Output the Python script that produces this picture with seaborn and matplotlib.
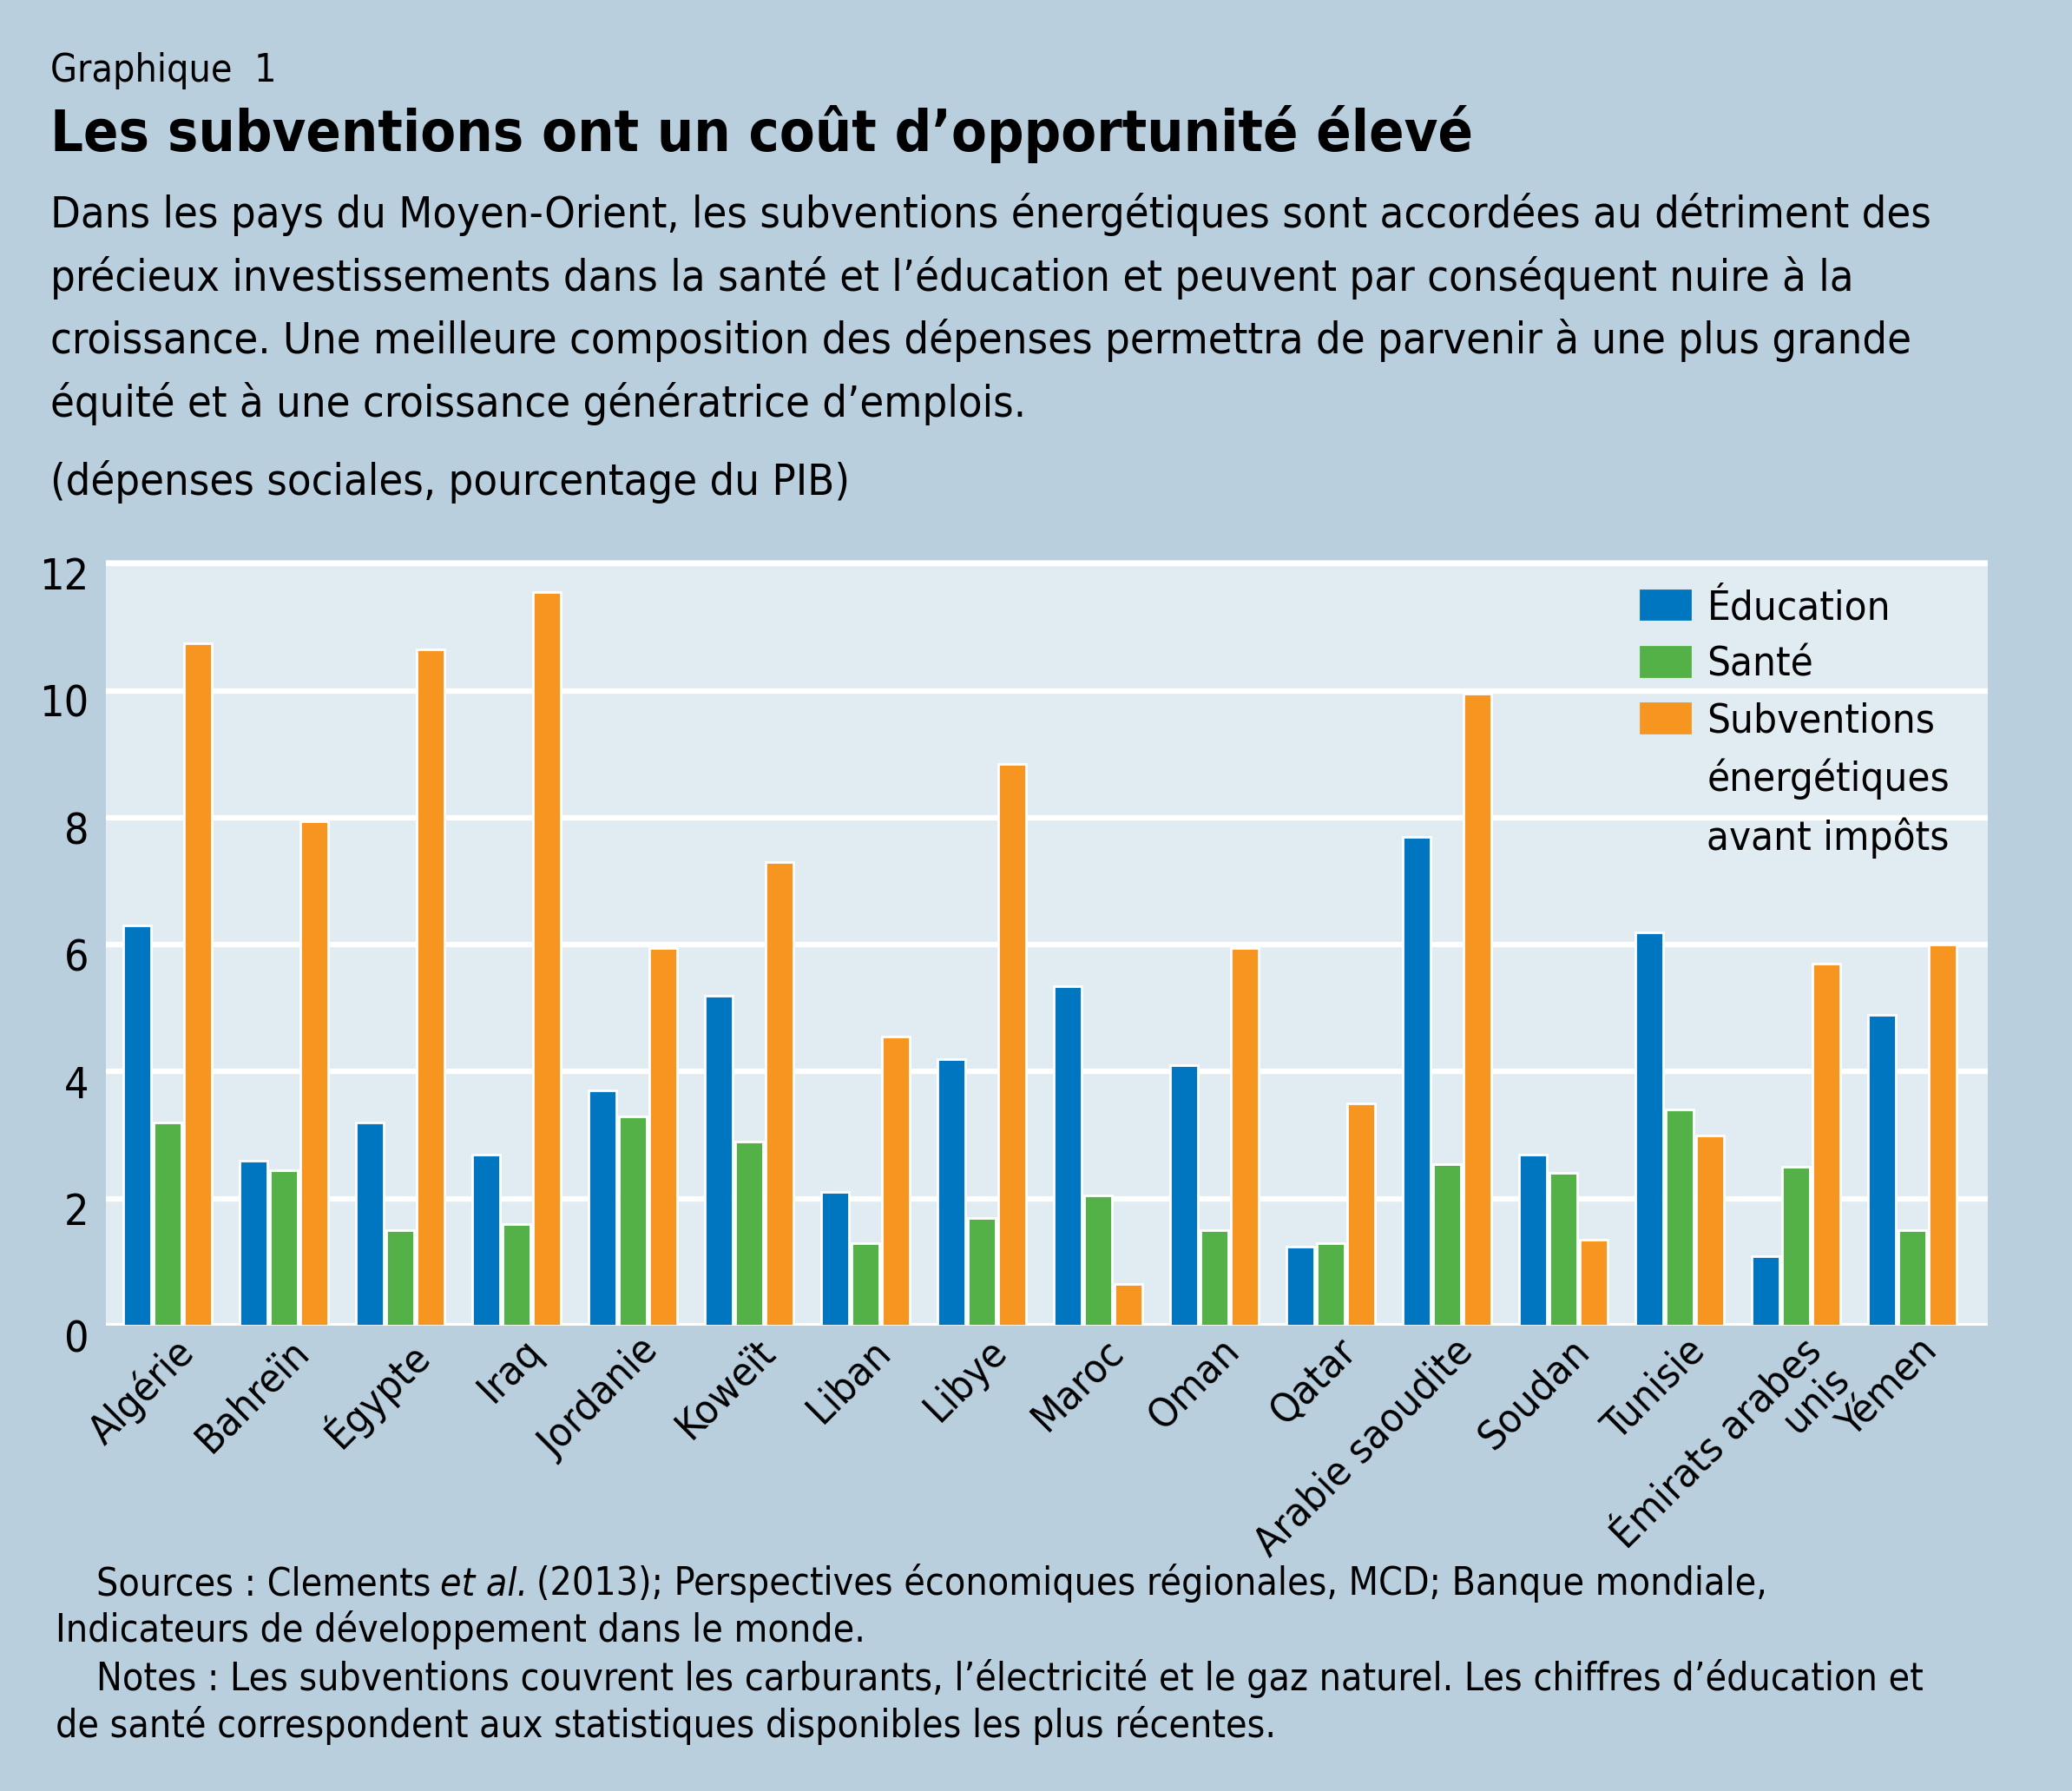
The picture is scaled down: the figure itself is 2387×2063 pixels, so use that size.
import numpy as np
import pandas as pd
import matplotlib
matplotlib.use("Agg")
import matplotlib.pyplot as plt
import matplotlib.transforms as mtransforms
from matplotlib import font_manager as fm
from matplotlib.patches import Patch
import seaborn as sns

#=========================================================================================
# Data (% of GDP)
#=========================================================================================
pays = ["Algérie", "Bahreïn", "Égypte", "Iraq", "Jordanie", "Koweït", "Liban", "Libye",
        "Maroc", "Oman", "Qatar", "Arabie saoudite", "Soudan", "Tunisie",
        "Émirats arabes\nunis", "Yémen"]
education = [6.3, 2.6, 3.2, 2.7, 3.7, 5.2, 2.1, 4.2, 5.35, 4.1, 1.25, 7.7, 2.7, 6.2, 1.1, 4.9]
sante = [3.2, 2.45, 1.5, 1.6, 3.3, 2.9, 1.3, 1.7, 2.05, 1.5, 1.3, 2.55, 2.4, 3.4, 2.5, 1.5]
subventions = [10.75, 7.95, 10.65, 11.55, 5.95, 7.3, 4.55, 8.85, 0.65, 5.95, 3.5, 9.95,
               1.35, 3.0, 5.7, 6.0]
series = ["Éducation", "Santé", "Subventions"]
legend_labels = ["Éducation", "Santé", "Subventions", "énergétiques", "avant impôts"]

df = pd.DataFrame({
    "pays": pays * 3,
    "valeur": education + sante + subventions,
    "serie": [s for s in series for _ in pays],
})

BG = "#bacfde"
PANEL = "#e1ebf2"
BLUE = "#0075c0"
GREEN = "#53b147"
ORANGE = "#f69520"

sns.set_style("white")

# the original uses a condensed sans; take one if the machine has it, else Roboto
family, stretch = "Roboto", "normal"
for f in fm.fontManager.ttflist:
    if f.stretch in ("condensed", "semi-condensed") or "Narrow" in f.name or "Condensed" in f.name:
        family, stretch = f.name, f.stretch
        break
plt.rcParams['font.family'] = [family, 'DejaVu Sans']
plt.rcParams['font.stretch'] = stretch
plt.rcParams['text.color'] = 'black'
plt.rcParams['xtick.color'] = 'black'
plt.rcParams['ytick.color'] = 'black'

W, H = 2387, 2063
fig = plt.figure(figsize=(W / 200, H / 200), dpi=200, facecolor=BG)
renderer = fig.canvas.get_renderer()


def fx(px):
    return px / W


def fy(py):
    return 1 - py / H


def fit(t, width_px, maxsize):
    # shrink a text so that it spans the same width as in the original
    w = t.get_window_extent(renderer).width
    t.set_fontsize(min(maxsize, t.get_fontsize() * width_px / w))
    return t.get_fontsize()


#================================================
# Bars
#================================================
ax = fig.add_axes([fx(122), fy(1527), fx(2290) - fx(122), fy(645) - fy(1527)])
ax.set_facecolor(PANEL)
sns.barplot(data=df, x="pays", y="valeur", hue="serie", palette=[BLUE, GREEN, ORANGE],
            width=0.78, gap=0.08, saturation=1, errorbar=None, legend=False, ax=ax)

ax.set_xlim(-0.53, 15.65)
ax.set_ylim(0, 12.06)
ax.set_yticks(np.arange(0, 13, 2))
ax.set_axisbelow(True)
ax.yaxis.grid(True, color="white", linewidth=2.3)
ax.xaxis.grid(False)
for s in ax.spines.values():
    s.set_visible(False)
ax.set_xlabel("")
ax.set_ylabel("")

ax.set_xticks(np.arange(-0.5, 16, 1), minor=True)
ax.tick_params(axis="x", which="minor", direction="in", length=7.5, width=1.3, color="black")
ax.tick_params(axis="x", which="major", length=0, pad=2.5, labelsize=17)
ax.tick_params(axis="y", length=0, pad=7, labelsize=18)

xoff = mtransforms.ScaledTranslation(2.5 / 72, 0, fig.dpi_scale_trans)
for lab in ax.get_xticklabels():
    lab.set_rotation(45)
    lab.set_ha("right")
    lab.set_va("top")
    lab.set_rotation_mode("anchor")
    lab.set_linespacing(1.0)
    lab.set_transform(lab.get_transform() + xoff)
yoff = mtransforms.ScaledTranslation(0, -4 / 72, fig.dpi_scale_trans)
for lab in ax.get_yticklabels():
    lab.set_transform(lab.get_transform() + yoff)

# legend: the long label is split over three rows, only the first has a patch
handles = [Patch(color=BLUE), Patch(color=GREEN), Patch(color=ORANGE),
           Patch(alpha=0), Patch(alpha=0)]
ax.legend(handles, legend_labels, loc="upper left", bbox_to_anchor=(fx(1890), fy(678)),
          bbox_transform=fig.transFigure, frameon=False, fontsize=17, borderpad=0,
          borderaxespad=0, handlelength=1.2, handleheight=0.72, handletextpad=0.42,
          labelspacing=0.43)

#================================================
# Titles
#================================================
fig.text(fx(58), fy(94), "Graphique  1", fontsize=16, va="baseline")
t = fig.text(fx(58), fy(174), "Les subventions ont un coût d’opportunité élevé",
             fontsize=25, fontweight="bold", va="baseline")
fit(t, 1642, 25)
sub = ["Dans les pays du Moyen-Orient, les subventions énergétiques sont accordées au détriment des",
       "précieux investissements dans la santé et l’éducation et peuvent par conséquent nuire à la",
       "croissance. Une meilleure composition des dépenses permettra de parvenir à une plus grande",
       "équité et à une croissance génératrice d’emplois."]
lines = [fig.text(fx(58), fy(262 + 72.7 * i), line, fontsize=20, va="baseline")
         for i, line in enumerate(sub)]
fs_sub = fit(lines[0], 2162, 20)
for t in lines[1:]:
    t.set_fontsize(fs_sub)
fig.text(fx(58), fy(570), "(dépenses sociales, pourcentage du PIB)", fontsize=fs_sub, va="baseline")

#================================================
# Notes
#================================================
t3 = fig.text(fx(111), fy(1947), "Notes : Les subventions couvrent les carburants, l’électricité et le "
              "gaz naturel. Les chiffres d’éducation et", fontsize=17, va="baseline")
fs = fit(t3, 2104, 17)
gap = 0.23 * fs / 72 * 200
t = fig.text(fx(111), fy(1837), "Sources : Clements", fontsize=fs, va="baseline")
x1 = t.get_window_extent(renderer).x1 + gap
t = fig.text(x1 / W, fy(1837), "et al.", fontsize=fs, style="italic", va="baseline")
x1 = t.get_window_extent(renderer).x1 + gap
fig.text(x1 / W, fy(1837), "(2013); Perspectives économiques régionales, MCD; Banque mondiale,",
         fontsize=fs, va="baseline")
fig.text(fx(64), fy(1891), "Indicateurs de développement dans le monde.", fontsize=fs, va="baseline")
fig.text(fx(64), fy(2001), "de santé correspondent aux statistiques disponibles les plus récentes.",
         fontsize=fs, va="baseline")

plt.savefig("out.png", dpi=200, facecolor=BG)
plt.close()
